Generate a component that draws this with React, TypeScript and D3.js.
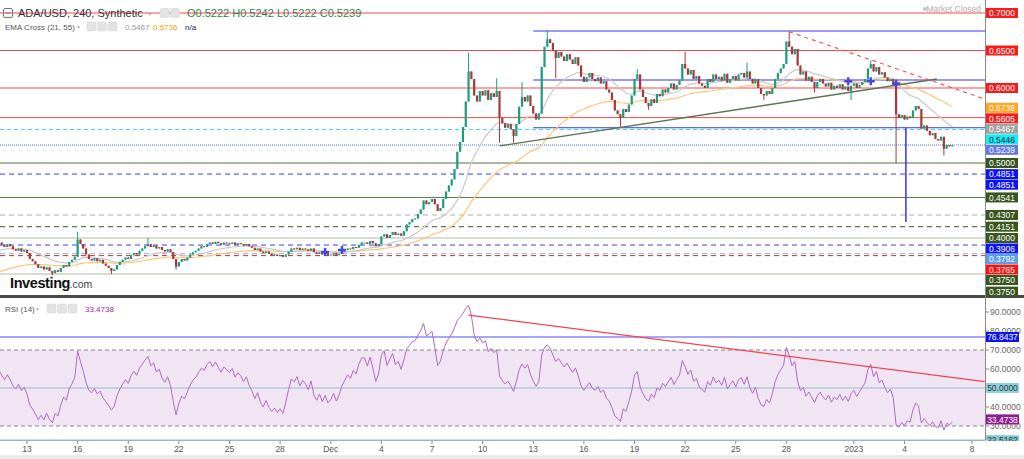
import React from "react";
import * as d3 from "d3";

// ---------- DATA ----------
const firstCandle = Date.UTC(2022, 10, 11, 0, 0);
const candleHours = 4;

// 4h closes, six per day starting 11 Nov 2022
const closes = [
  0.386, 0.390, 0.394, 0.391, 0.388, 0.392,
  0.389, 0.385, 0.383, 0.386, 0.382, 0.384,
  0.380, 0.372, 0.369, 0.365, 0.360, 0.362,
  0.358, 0.361, 0.356, 0.353, 0.357, 0.355,
  0.360, 0.364, 0.362, 0.368, 0.371, 0.375,
  0.398, 0.392, 0.386, 0.378, 0.372, 0.370,
  0.373, 0.369, 0.371, 0.366, 0.363, 0.360,
  0.356, 0.358, 0.364, 0.368, 0.371, 0.374,
  0.372, 0.377, 0.380, 0.378, 0.383, 0.386,
  0.389, 0.392, 0.388, 0.390, 0.386, 0.388,
  0.384, 0.382, 0.385, 0.381, 0.372, 0.362,
  0.368, 0.372, 0.370, 0.374, 0.378, 0.381,
  0.383, 0.386, 0.389, 0.388, 0.392, 0.394,
  0.392, 0.395, 0.393, 0.391, 0.394, 0.393,
  0.392, 0.394, 0.391, 0.393, 0.392, 0.390,
  0.392, 0.389, 0.387, 0.384, 0.386, 0.382,
  0.380, 0.382, 0.379, 0.377, 0.378, 0.376,
  0.377, 0.375, 0.378, 0.382, 0.386, 0.385,
  0.387, 0.384, 0.386, 0.385, 0.383, 0.386,
  0.381, 0.379, 0.381, 0.378, 0.380, 0.377,
  0.378, 0.380, 0.377, 0.379, 0.382, 0.384,
  0.386, 0.385, 0.388, 0.387, 0.391, 0.394,
  0.394, 0.392, 0.396, 0.393, 0.389, 0.392,
  0.402, 0.405, 0.400, 0.404, 0.408, 0.404,
  0.406, 0.403, 0.409, 0.418, 0.421, 0.425,
  0.426, 0.432, 0.438, 0.450, 0.445, 0.448,
  0.452, 0.445, 0.436, 0.440, 0.452, 0.462,
  0.470, 0.478, 0.492, 0.515, 0.528, 0.548,
  0.582, 0.622, 0.612, 0.590, 0.582, 0.596,
  0.590, 0.597, 0.584, 0.593, 0.588, 0.596,
  0.560, 0.553, 0.547, 0.552, 0.545, 0.536,
  0.552, 0.575, 0.588, 0.582, 0.590, 0.576,
  0.566, 0.558, 0.566, 0.628, 0.655, 0.665,
  0.660, 0.650, 0.640, 0.648, 0.642, 0.636,
  0.645, 0.638, 0.632, 0.641, 0.630, 0.615,
  0.608, 0.614, 0.620, 0.612, 0.609, 0.614,
  0.606, 0.609, 0.598, 0.594, 0.584, 0.570,
  0.565, 0.560, 0.572, 0.568, 0.578, 0.590,
  0.612, 0.618, 0.598, 0.588, 0.580, 0.576,
  0.585, 0.580, 0.592, 0.589, 0.598, 0.594,
  0.600, 0.606, 0.598, 0.604, 0.610, 0.632,
  0.626, 0.618, 0.624, 0.612, 0.616, 0.606,
  0.603, 0.600, 0.612, 0.608, 0.618, 0.612,
  0.615, 0.610, 0.619, 0.607, 0.612, 0.616,
  0.610, 0.618, 0.620, 0.614, 0.622, 0.612,
  0.606, 0.612, 0.600, 0.592, 0.590, 0.596,
  0.592, 0.600, 0.612, 0.620, 0.626, 0.632,
  0.662, 0.655, 0.645, 0.652, 0.630, 0.618,
  0.622, 0.610, 0.615, 0.608, 0.600, 0.608,
  0.612, 0.606, 0.602, 0.607, 0.598, 0.603,
  0.600, 0.605, 0.598, 0.602, 0.596, 0.603,
  0.606, 0.600, 0.604, 0.608, 0.612, 0.626,
  0.632, 0.622, 0.628, 0.618, 0.621, 0.614,
  0.609, 0.612, 0.604, 0.565, 0.560, 0.564,
  0.558, 0.562, 0.560, 0.570, 0.576, 0.572,
  0.546, 0.550, 0.543, 0.537, 0.540, 0.532,
  0.530, 0.535, 0.519, 0.524, 0.5222, 0.5239,
];

// notable wicks [candle index, price]
const wickHighs: [number, number][] = [
  [30, 0.408], [55, 0.4], [169, 0.647], [179, 0.613], [188, 0.608], [197, 0.677],
  [229, 0.625], [246, 0.648], [268, 0.634], [283, 0.675], [312, 0.637],
];
const wickLows: [number, number][] = [
  [21, 0.35], [42, 0.352], [65, 0.358], [180, 0.527], [185, 0.527], [200, 0.613],
  [223, 0.548], [233, 0.571], [274, 0.584], [292, 0.594], [305, 0.584], [321, 0.5], [338, 0.51],
];

const ema21Start = 0.382;
const ema55Start = 0.352;
const emaLastLabels = { fast: "0.5467", slow: "0.5736", fastValue: 0.5467, slowValue: 0.5736 };
const rsiStartGain = 0.003;
const rsiStartLoss = 0.0025;

// horizontal price levels: value, label, kind
const levelValues = [0.7, 0.65, 0.6, 0.5605, 0.5446, 0.5239, 0.5, 0.4851, 0.4851, 0.4541, 0.4307, 0.4151, 0.4, 0.3906, 0.3792, 0.3765, 0.352, 0.3285];
const levelLabels = ["0.7000", "0.6500", "0.6000", "0.5605", "0.5446", "0.5239", "0.5000", "0.4851", "0.4851", "0.4541", "0.4307", "0.4151", "0.4000", "0.3906", "0.3792", "0.3765", "0.3750", "0.3750"];
const levelKinds = ["red", "red", "red", "red", "cyan", "last", "green", "lavender", "lavender", "green", "lightGreenDash", "greenDash", "lightGreen", "blueDash", "lightBlueDash", "redDash", "lightGreen", "none"];

// segments starting 13 Dec drawn to the right edge
const segmentStart = "2022-12-13T00:00Z";
const segmentPrices = [0.676, 0.6107, 0.547];

// drawn trend lines [time, price]
const supportLine: [string, number][] = [["2022-12-11T00:00Z", 0.5227], ["2023-01-05T22:00Z", 0.612]];
const resistLine: [string, number][] = [["2022-12-28T04:00Z", 0.675], ["2023-01-08T18:00Z", 0.5853]];
const spikeLine: [string, number][] = [["2023-01-04T02:00Z", 0.547], ["2023-01-04T02:00Z", 0.4213]];
const crossMarks: [string, number][] = [
  ["2022-11-30T16:00Z", 0.3813], ["2022-12-01T16:00Z", 0.384],
  ["2022-12-31T16:00Z", 0.609], ["2023-01-02T00:00Z", 0.609], ["2023-01-03T12:00Z", 0.606],
];

// RSI
const rsiTicks = [90, 80, 70, 60, 40, 30];
const rsiBand = [70, 30];
const rsiLevels = [76.8437, 50, 22.5162];
const rsiLevelLabels = ["76.8437", "50.0000", "22.5162"];
const rsiLastLabel = "33.4738";
const rsiLastValue = 33.4738;
const rsiTrend: [string, number][] = [["2022-12-09T04:00Z", 88.4], ["2023-01-08T18:00Z", 53.3]];

// time axis
const tickDates = ["2022-11-13", "2022-11-16", "2022-11-19", "2022-11-22", "2022-11-25", "2022-11-28", "2022-12-01", "2022-12-04", "2022-12-07", "2022-12-10", "2022-12-13", "2022-12-16", "2022-12-19", "2022-12-22", "2022-12-25", "2022-12-28", "2023-01-01", "2023-01-04", "2023-01-08"];
const tickLabels = ["13", "16", "19", "22", "25", "28", "Dec", "4", "7", "10", "13", "16", "19", "22", "25", "28", "2023", "4", "8"];

const header = { title: "ADA/USD, 240, Synthetic", ohlc: "O0.5222 H0.5242 L0.5222 C0.5239" };

// ---------- STYLES ----------
const W = 1024, H = 459;
const PLOT_R = 985;
const MAIN_BOTTOM = 295;
const RSI_TOP = 298, RSI_BOTTOM = 440;
const FONT = "'Liberation Sans', Arial, sans-serif";
const UP = "#1e9c7c", DOWN = "#a73a37";

const kindStyle: Record<string, { stroke: string; dash?: string; w: number; box: string; text: string }> = {
  red: { stroke: "#f24b4b", w: 1, box: "#f71b1b", text: "#fff" },
  cyan: { stroke: "#35d9e6", dash: "4,3", w: 1, box: "#12f0f5", text: "#222" },
  last: { stroke: "#a9b6ee", dash: "1,1", w: 2, box: "#6477e6", text: "#fff" },
  green: { stroke: "#587447", w: 1, box: "#39561f", text: "#fff" },
  lavender: { stroke: "#8a8cf5", dash: "5,4", w: 1.2, box: "#0a14f5", text: "#fff" },
  lightGreenDash: { stroke: "#a8b79c", dash: "5,4", w: 1.2, box: "#39561f", text: "#fff" },
  greenDash: { stroke: "#5e7a4c", dash: "5,4", w: 1.2, box: "#39561f", text: "#fff" },
  lightGreen: { stroke: "#b0bea4", w: 1.2, box: "#39561f", text: "#fff" },
  blueDash: { stroke: "#3b3bf5", dash: "5,4", w: 1, box: "#0a14f5", text: "#fff" },
  lightBlueDash: { stroke: "#93b5ea", dash: "5,4", w: 1, box: "#5c9ee8", text: "#fff" },
  redDash: { stroke: "#b8322e", dash: "5,4", w: 1, box: "#ff1010", text: "#fff" },
  none: { stroke: "none", w: 0, box: "#39561f", text: "#fff" },
};

function Icons({ x, y, n }: { x: number; y: number; n: number }) {
  return (
    <g>
      {d3.range(n).map((k) => (
        <rect key={k} x={x + k * 10.5} y={y} width={9} height={9} rx={1.5} fill="#e3e3e3" stroke="#d0d0d0" strokeWidth={0.5} />
      ))}
    </g>
  );
}

export default function App() {
  const x = d3.scaleUtc().domain([new Date(Date.UTC(2022, 10, 13)), new Date(Date.UTC(2023, 0, 8))]).range([27, 972]);
  const y = d3.scaleLinear().domain([0.7, 0.3]).range([13, 313]);
  const yr = d3.scaleLinear().domain([90, 30]).range([312, 426]);

  const hiMap = new Map(wickHighs);
  const loMap = new Map(wickLows);
  const candles = closes.map((c, i) => {
    const o = i === 0 ? c : closes[i - 1];
    const t = new Date(firstCandle + i * candleHours * 3600e3);
    const h = Math.max(o, c, hiMap.get(i) ?? 0);
    const l = Math.min(o, c, loMap.get(i) ?? 10);
    return { t, o, c, h, l };
  });

  const ema = (start: number, n: number) => {
    const k = 2 / (n + 1);
    const out: number[] = [];
    closes.forEach((c, i) => out.push(i === 0 ? start : out[i - 1] + k * (c - out[i - 1])));
    return out;
  };
  const ema21 = ema(ema21Start, 21);
  const ema55 = ema(ema55Start, 55);

  const rsi: number[] = [];
  let ag = rsiStartGain, al = rsiStartLoss;
  closes.forEach((c, i) => {
    if (i > 0) {
      const ch = c - closes[i - 1];
      ag = (ag * 13 + Math.max(ch, 0)) / 14;
      al = (al * 13 + Math.max(-ch, 0)) / 14;
    }
    rsi.push(100 - 100 / (1 + ag / al));
  });

  const lineT = d3.line<[Date, number]>().x((d) => x(d[0])).y((d) => y(d[1]));
  const emaPath = (arr: number[]) => lineT(arr.map((v, i) => [candles[i].t, v]));
  const rsiPath = d3.line<number>().x((_, i) => x(candles[i].t)).y((v) => yr(v))(rsi);
  const P = (pts: [string, number][]) => pts.map((p) => [new Date(p[0]), p[1]] as [Date, number]);

  type Lab = { v: number; text: string; box: string; color: string };
  const labs: Lab[] = [];
  levelValues.forEach((v, i) => {
    const s = kindStyle[levelKinds[i]];
    labs.push({ v, text: levelLabels[i], box: s.box, color: s.text });
  });
  labs.push({ v: emaLastLabels.fastValue, text: emaLastLabels.fast, box: "#a3a3a3", color: "#fff" });
  labs.push({ v: emaLastLabels.slowValue, text: emaLastLabels.slow, box: "#ffa520", color: "#fff" });
  labs.sort((a, b) => b.v - a.v);
  let prev = -100;
  const placed = labs.map((l) => {
    const yy = Math.max(y(l.v), prev + 10.5);
    prev = yy;
    return { ...l, yy };
  });

  return (
    <svg width={W} height={H} style={{ position: "fixed", left: 0, top: 0, background: "#fff" }} fontFamily={FONT}>
      <defs>
        <clipPath id="main"><rect x={0} y={0} width={PLOT_R} height={MAIN_BOTTOM} /></clipPath>
        <clipPath id="rsi"><rect x={0} y={RSI_TOP} width={PLOT_R} height={RSI_BOTTOM - RSI_TOP} /></clipPath>
        <clipPath id="rsiAxis"><rect x={PLOT_R} y={RSI_TOP} width={W - PLOT_R} height={RSI_BOTTOM - RSI_TOP + 1} /></clipPath>
      </defs>
      <rect width={W} height={H} fill="#fff" />

      {/* MAIN PANE */}
      <g clipPath="url(#main)">
        {levelValues.map((v, i) => {
          const s = kindStyle[levelKinds[i]];
          if (s.stroke === "none") return null;
          return <line key={i} x1={0} x2={PLOT_R} y1={y(v)} y2={y(v)} stroke={s.stroke} strokeWidth={s.w} strokeDasharray={s.dash} />;
        })}
        {segmentPrices.map((p, i) => (
          <line key={i} x1={x(new Date(segmentStart))} x2={PLOT_R} y1={y(p)} y2={y(p)} stroke="#3434f2" strokeWidth={1.2} />
        ))}
        <path d={emaPath(ema55) ?? ""} fill="none" stroke="#ffc47a" strokeWidth={1.2} />
        <path d={emaPath(ema21) ?? ""} fill="none" stroke="#c9c9c9" strokeWidth={1.2} />
        <path d={lineT(P(supportLine)) ?? ""} stroke="#5d7352" strokeWidth={1.3} fill="none" />
        <path d={lineT(P(resistLine)) ?? ""} stroke="#f25a5a" strokeWidth={1.2} strokeDasharray="4,4" fill="none" />
        {candles.map((d, i) => {
          const cx = x(d.t);
          const col = d.c >= d.o ? UP : DOWN;
          const top = y(Math.max(d.o, d.c));
          const hgt = Math.max(1, Math.abs(y(d.o) - y(d.c)));
          return (
            <g key={i}>
              <line x1={cx} x2={cx} y1={y(d.h)} y2={y(d.l)} stroke={col} strokeWidth={1} />
              <rect x={cx - 1.1} y={top} width={2.2} height={hgt} fill={col} />
            </g>
          );
        })}
        <path d={lineT(P(spikeLine)) ?? ""} stroke="#3434f2" strokeWidth={1.5} fill="none" />
        {crossMarks.map((m, i) => {
          const cx = x(new Date(m[0])), cy = y(m[1]);
          return (
            <g key={i} stroke="#4646e8" strokeWidth={2.4}>
              <line x1={cx - 4} x2={cx + 4} y1={cy} y2={cy} />
              <line x1={cx} x2={cx} y1={cy - 4} y2={cy + 4} />
            </g>
          );
        })}
      </g>

      {/* header */}
      <rect x={3.5} y={8.5} width={9} height={9} rx={1.5} fill="none" stroke="#777" strokeWidth={1} />
      <line x1={5.5} x2={10.5} y1={13} y2={13} stroke="#777" strokeWidth={1} />
      <text x={18} y={17} fontSize={11} fill="#333">{header.title}</text>
      <text x={147} y={15.5} fontSize={5.5} fill="#b0b0b0">▼</text>
      <Icons x={160} y={8.5} n={2} />
      <text x={187} y={17} fontSize={11} fill="#3b7d4c">{header.ohlc}</text>
      <text x={5} y={30} fontSize={8} fill="#555">EMA Cross (21, 55)</text>
      <text x={76} y={29} fontSize={5} fill="#b0b0b0">▼</text>
      <Icons x={87} y={22} n={3} />
      <text x={125} y={30} fontSize={8} fill="#9a9a9a">{emaLastLabels.fast}</text>
      <text x={153} y={30} fontSize={8} fill="#f5a300">{emaLastLabels.slow}</text>
      <text x={185} y={30} fontSize={8} fill="#1a237e">n/a</text>
      <circle cx={925} cy={9} r={2} fill="#c8c8c8" />
      <text x={981} y={12} fontSize={8.5} textAnchor="end" fill="#b0b0b0">Market Closed</text>

      {/* logo */}
      <text x={10} y={288} fontSize={14.5} fontWeight={700} fill="#111" letterSpacing={-0.4}>Investing</text>
      <text x={69.5} y={288} fontSize={10.5} fill="#444">.com</text>

      {/* separator */}
      <rect x={0} y={MAIN_BOTTOM} width={W} height={3} fill="#4a4a4a" />

      {/* price axis */}
      <line x1={PLOT_R + 0.5} x2={PLOT_R + 0.5} y1={0} y2={RSI_BOTTOM} stroke="#8a8a8a" strokeWidth={1} />
      {placed.map((l, i) => (
        <g key={i}>
          <rect x={986} y={l.yy - 5} width={32} height={10} fill={l.box} />
          <text x={1002} y={l.yy + 3.2} fontSize={8.5} textAnchor="middle" fill={l.color}>{l.text}</text>
        </g>
      ))}

      {/* RSI PANE */}
      <g clipPath="url(#rsi)">
        <rect x={0} y={yr(rsiBand[0])} width={PLOT_R} height={yr(rsiBand[1]) - yr(rsiBand[0])} fill="#f2e5f3" />
        {rsiBand.map((v) => (
          <line key={v} x1={0} x2={PLOT_R} y1={yr(v)} y2={yr(v)} stroke="#8c8090" strokeDasharray="4,3" strokeWidth={1} />
        ))}
        <line x1={0} x2={PLOT_R} y1={yr(rsiLevels[0])} y2={yr(rsiLevels[0])} stroke="#5050f5" strokeWidth={1.2} />
        <line x1={0} x2={PLOT_R} y1={yr(rsiLevels[1])} y2={yr(rsiLevels[1])} stroke="#c3d1e3" strokeWidth={2} />
        <path d={rsiPath ?? ""} fill="none" stroke="#b16bc2" strokeWidth={1} />
        <path d={d3.line<[Date, number]>().x((d) => x(d[0])).y((d) => yr(d[1]))(P(rsiTrend)) ?? ""} stroke="#f2454f" strokeWidth={1.3} fill="none" />
      </g>
      <line x1={0} x2={PLOT_R} y1={yr(rsiLevels[2])} y2={yr(rsiLevels[2])} stroke="#8ccbd4" strokeWidth={1.5} />
      <text x={5} y={312} fontSize={8} fill="#555">RSI (14)</text>
      <text x={35} y={311} fontSize={5} fill="#b0b0b0">▼</text>
      <Icons x={47} y={304} n={3} />
      <text x={85} y={312} fontSize={8} fill="#9c27b0">{rsiLastLabel}</text>

      {/* RSI axis */}
      <g clipPath="url(#rsiAxis)">
        {rsiTicks.map((v) => (
          <g key={v}>
            <line x1={PLOT_R} x2={PLOT_R + 4} y1={yr(v)} y2={yr(v)} stroke="#888" />
            <text x={990} y={yr(v) + 3} fontSize={8.5} fill="#666">{v.toFixed(4)}</text>
          </g>
        ))}
        {[
          { v: rsiLevels[0], t: rsiLevelLabels[0], box: "#0a14f5", c: "#fff" },
          { v: rsiLevels[1], t: rsiLevelLabels[1], box: "#8fd0df", c: "#333" },
          { v: rsiLastValue, t: rsiLastLabel, box: "#8c1f8f", c: "#fff" },
          { v: rsiLevels[2], t: rsiLevelLabels[2], box: "#83c9d6", c: "#333" },
        ].map((b, i) => (
          <g key={i}>
            <rect x={986} y={yr(b.v) - 5} width={33} height={10} fill={b.box} />
            <text x={1002.5} y={yr(b.v) + 3.2} fontSize={8.5} textAnchor="middle" fill={b.c}>{b.t}</text>
          </g>
        ))}
      </g>

      {/* time axis */}
      <line x1={0} x2={PLOT_R} y1={RSI_BOTTOM + 0.5} y2={RSI_BOTTOM + 0.5} stroke="#8fb9c4" strokeWidth={1} />
      {tickDates.map((d, i) => {
        const tx = x(new Date(d + "T00:00Z"));
        return (
          <g key={d}>
            <line x1={tx} x2={tx} y1={RSI_BOTTOM + 1} y2={RSI_BOTTOM + 4} stroke="#888" />
            <text x={tx} y={452} fontSize={8.5} textAnchor="middle" fill="#555">{tickLabels[i]}</text>
          </g>
        );
      })}
      <rect x={0} y={455} width={W} height={4} fill="#ececec" />
    </svg>
  );
}
